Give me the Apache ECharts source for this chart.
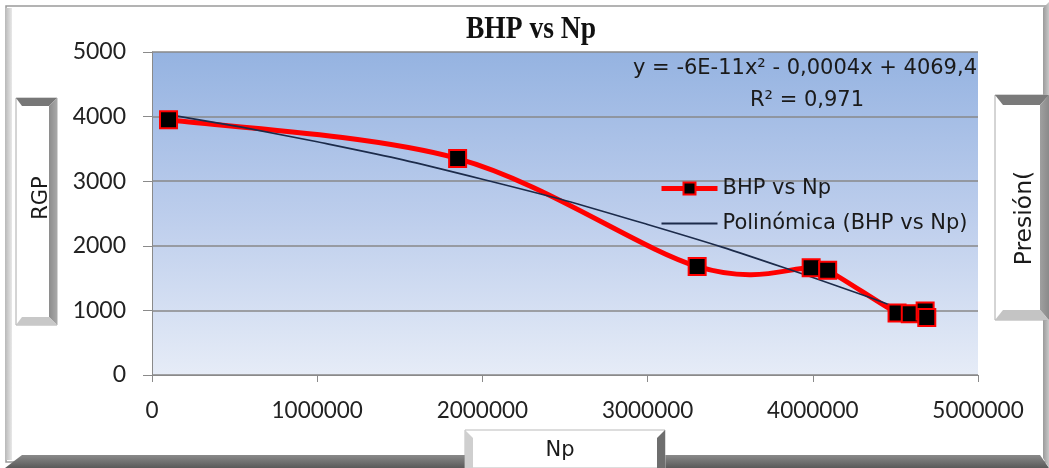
<!DOCTYPE html>
<html>
<head>
<meta charset="utf-8">
<script src="https://cdn.jsdelivr.net/npm/echarts@6/dist/echarts.min.js"></script>
<style>html,body{margin:0;padding:0;background:#fff;}#c{width:1049px;height:468px;}</style>
</head>
<body>
<div id="c"></div>
<script>
// Data
const npValues  = [100000, 1850000, 3300000, 3990000, 4090000, 4510000, 4590000, 4680000, 4690000];
const bhpValues = [3950, 3350, 1680, 1660, 1620, 960, 950, 990, 890];
const trendX = [100000, 1000000, 2000000, 3000000, 4000000, 4690000];
const trendY = [4030, 3610, 3030, 2330, 1510, 870];
const xTicks = [0, 1000000, 2000000, 3000000, 4000000, 5000000];
const yTicks = [0, 1000, 2000, 3000, 4000, 5000];
const titleText = 'BHP vs Np';
const seriesName = 'BHP vs Np';
const trendName = 'Polinómica (BHP vs Np)';
const eqLine1 = 'y = -6E-11x² - 0,0004x + 4069,4';
const eqLine2 = 'R² = 0,971';

const chart = echarts.init(document.getElementById('c'), null, {renderer: 'canvas'});
const F = 'Lato';
const F2 = 'DejaVu Sans';
const pts = npValues.map((x, i) => [x, bhpValues[i]]);
const tpts = trendX.map((x, i) => [x, trendY[i]]);

const bevelGrad = (c1, c2, horiz) => new echarts.graphic.LinearGradient(0, 0, horiz ? 1 : 0, horiz ? 0 : 1, [{offset: 0, color: c1}, {offset: 1, color: c2}]);

// Excel-style smoothed line: cubic Bezier through the data points (pixel positions from the axes)
function smoothPath(api) {
  const p = pts.map(d => api.coord(d));
  const n = p.length;
  let d = 'M' + p[0][0] + ' ' + p[0][1];
  for (let i = 0; i < n - 1; i++) {
    const p0 = p[Math.max(i - 1, 0)], p1 = p[i], p2 = p[i + 1], p3 = p[Math.min(i + 2, n - 1)];
    const c1x = p1[0] + (p2[0] - p0[0]) / 6, c1y = p1[1] + (p2[1] - p0[1]) / 6;
    const c2x = p2[0] - (p3[0] - p1[0]) / 6, c2y = p2[1] - (p3[1] - p1[1]) / 6;
    d += ' C' + c1x + ' ' + c1y + ' ' + c2x + ' ' + c2y + ' ' + p2[0] + ' ' + p2[1];
  }
  return d;
}

chart.setOption({
  animation: false,
  backgroundColor: '#ffffff',
  grid: {
    left: 152, right: 71, top: 52, bottom: 93,
    show: true, borderWidth: 0,
    backgroundColor: new echarts.graphic.LinearGradient(0, 0, 0, 1, [
      {offset: 0, color: '#95b3e1'},
      {offset: 0.5, color: '#bccdec'},
      {offset: 1, color: '#e6ecf7'}
    ])
  },
  legend: {
    orient: 'vertical', left: 654, top: 173, itemGap: 14,
    itemWidth: 56, itemHeight: 15,
    textStyle: {fontFamily: F2, fontSize: 21, color: '#1a1a1a'},
    data: [
      {name: seriesName, lineStyle: {color: '#ff0000', width: 5, opacity: 1}},
      {name: trendName, itemStyle: {opacity: 0}}
    ]
  },
  xAxis: {
    type: 'value', min: 0, max: 5000000, interval: 1000000,
    axisLine: {show: true, lineStyle: {color: '#8a8a8a', width: 1}},
    axisTick: {show: true, inside: false, length: 7, lineStyle: {color: '#8a8a8a'}},
    splitLine: {show: false},
    axisLabel: {fontFamily: F, fontSize: 22.5, color: '#222', margin: 24, formatter: v => xTicks.includes(v) ? String(v) : ''}
  },
  yAxis: {
    type: 'value', min: 0, max: 5000, interval: 1000,
    axisLine: {show: true, lineStyle: {color: '#8a8a8a', width: 1}},
    axisTick: {show: true, inside: false, length: 9, lineStyle: {color: '#8a8a8a'}},
    splitLine: {show: true, lineStyle: {color: '#888888', width: 1.5}},
    axisLabel: {fontFamily: F, fontSize: 23, color: '#222', margin: 26, formatter: v => yTicks.includes(v) ? String(v) : ''}
  },
  series: [
    {
      name: 'curve', type: 'custom', data: [[npValues[0], bhpValues[0]]], z: 2, clip: false,
      renderItem: (params, api) => ({
        type: 'path',
        shape: {pathData: smoothPath(api)},
        style: {stroke: '#ff0000', lineWidth: 5, fill: null, lineJoin: 'round', lineCap: 'round'}
      })
    },
    {
      name: seriesName, type: 'line', data: pts,
      lineStyle: {color: '#ff0000', width: 5, opacity: 0},
      itemStyle: {color: '#000000', borderColor: '#ff0000', borderWidth: 2},
      symbol: 'rect', symbolSize: 17, z: 5
    },
    {
      name: trendName, type: 'line', data: tpts, smooth: true,
      symbol: 'none', showSymbol: false,
      lineStyle: {color: '#1c2b4a', width: 1.6},
      itemStyle: {color: '#1c2b4a'}, z: 4
    }
  ],
  graphic: [
    // outer frame
    {type: 'rect', shape: {x: 6, y: 6, width: 1040, height: 456}, style: {fill: 'none', stroke: '#9a9a9a', lineWidth: 1.5}, z: -10},
    {type: 'rect', shape: {x: 5, y: 8, width: 7, height: 452}, style: {fill: bevelGrad('#b8b8b8', '#e8e8e8', true)}, z: -10},
    {type: 'polygon', shape: {points: [[5, 468], [22, 455], [1040, 455], [1049, 468]]}, style: {fill: bevelGrad('#8a8a8a', '#5a5a5a', false)}, z: -10},
    {type: 'polygon', shape: {points: [[1043, 8], [1049, 2], [1049, 468], [1043, 458]]}, style: {fill: bevelGrad('#9a9a9a', '#c8c8c8', true)}, z: -10},
    // left axis title box
    {type: 'rect', shape: {x: 16, y: 98, width: 41, height: 227}, style: {fill: '#ffffff', stroke: '#aaaaaa', lineWidth: 1}, z: -5},
    {type: 'polygon', shape: {points: [[16, 98], [57, 98], [49, 106], [22, 106]]}, style: {fill: '#777777'}, z: -5},
    {type: 'polygon', shape: {points: [[57, 98], [57, 325], [49, 317], [49, 106]]}, style: {fill: bevelGrad('#8c8c8c', '#a8a8a8', true)}, z: -5},
    {type: 'polygon', shape: {points: [[16, 325], [57, 325], [49, 317], [22, 317]]}, style: {fill: '#c8c8c8'}, z: -5},
    {type: 'text', x: 42, y: 198, rotation: Math.PI / 2, style: {text: 'RGP', fontFamily: F2, fontSize: 21, fill: '#1a1a1a', textAlign: 'center', textVerticalAlign: 'middle'}},
    // right axis title box
    {type: 'rect', shape: {x: 995, y: 95, width: 52, height: 225}, style: {fill: '#ffffff', stroke: '#aaaaaa', lineWidth: 1}, z: -5},
    {type: 'polygon', shape: {points: [[995, 95], [1049, 95], [1040, 105], [1003, 105]]}, style: {fill: '#7a7a7a'}, z: -5},
    {type: 'polygon', shape: {points: [[1049, 95], [1049, 320], [1040, 310], [1040, 105]]}, style: {fill: bevelGrad('#a0a0a0', '#8a8a8a', true)}, z: -5},
    {type: 'polygon', shape: {points: [[995, 320], [1049, 320], [1040, 310], [1003, 310]]}, style: {fill: '#c4c4c4'}, z: -5},
    {type: 'text', x: 1025, y: 218, rotation: Math.PI / 2, style: {text: 'Presión(', fontFamily: F2, fontSize: 23.5, fill: '#1a1a1a', textAlign: 'center', textVerticalAlign: 'middle'}},
    // bottom axis title box
    {type: 'rect', shape: {x: 465, y: 430, width: 200, height: 38}, style: {fill: '#ffffff', stroke: '#bbbbbb', lineWidth: 1}, z: -5},
    {type: 'polygon', shape: {points: [[465, 430], [473, 438], [473, 468], [465, 468]]}, style: {fill: '#cfcfcf'}, z: -5},
    {type: 'polygon', shape: {points: [[665, 430], [657, 438], [657, 468], [665, 468]]}, style: {fill: '#6e6e6e'}, z: -5},
    {type: 'text', x: 560, y: 451, style: {text: 'Np', fontFamily: F2, fontSize: 21, fill: '#1a1a1a', textAlign: 'center', textVerticalAlign: 'middle'}},
    // title
    {type: 'text', x: 531, y: 30, scaleX: 0.86, style: {text: titleText, fontFamily: 'Liberation Serif', fontWeight: 'bold', fontSize: 32, fill: '#111', textAlign: 'center', textVerticalAlign: 'middle'}},
    // trendline equation
    {type: 'text', x: 977, y: 69, style: {text: eqLine1, fontFamily: F2, fontSize: 21, fill: '#1a1a1a', textAlign: 'right', textVerticalAlign: 'middle'}, z: 10},
    {type: 'text', x: 807, y: 101, style: {text: eqLine2, fontFamily: F2, fontSize: 21, fill: '#1a1a1a', textAlign: 'center', textVerticalAlign: 'middle'}, z: 10}
  ]
});
</script>
</body>
</html>
